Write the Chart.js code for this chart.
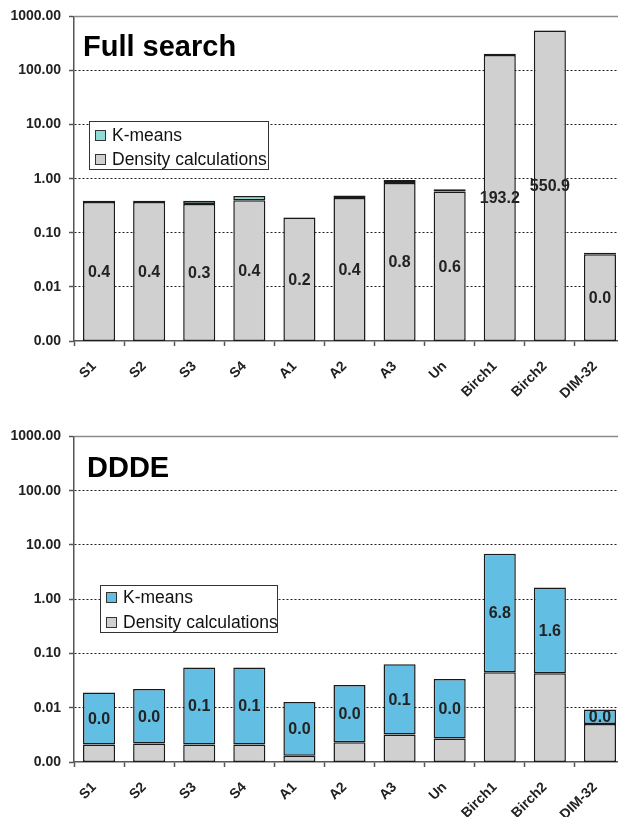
<!DOCTYPE html>
<html><head><meta charset="utf-8">
<script src="https://cdn.jsdelivr.net/npm/chart.js@4.4.0/dist/chart.umd.min.js"></script>
<style>
html,body{margin:0;padding:0;background:#fff;overflow:hidden;width:618px;height:817px;}
canvas{position:absolute;left:0;}
#c1{top:0;} #c2{top:420px;}
</style></head><body>
<canvas id="c1" width="630" height="410"></canvas>
<canvas id="c2" width="630" height="397"></canvas>
<script>
const categories = ['S1','S2','S3','S4','A1','A2','A3','Un','Birch1','Birch2','DIM-32'];
const yTickValues = [0.001, 0.01, 0.1, 1, 10, 100, 1000];
const seriesNames = ['K-means', 'Density calculations'];

// Panel 1: Full search
const fullDensity = [0.37, 0.37, 0.34, 0.40, 0.19, 0.44, 0.83, 0.58, 193.2, 550.9, 0.040];
const fullKmeans  = [0.02, 0.02, 0.05, 0.08, 0.004, 0.05, 0.12, 0.06, 10, 4, 0.003];

// Panel 2: DDDE
const ddeDensity = [0.0021, 0.0022, 0.0021, 0.0021, 0.0013, 0.0023, 0.0032, 0.0027, 0.045, 0.043, 0.0050];
const ddeKmeans  = [0.017, 0.020, 0.053, 0.053, 0.0115, 0.024, 0.060, 0.031, 6.8, 1.6, 0.0043];

const FONT = '"Liberation Sans", Arial, sans-serif';

const decor = {
  id: 'decor',
  beforeDatasetsDraw(chart) {
    const a = chart.chartArea, ctx = chart.ctx;
    ctx.save();
    ctx.strokeStyle = '#8a8a8a'; ctx.lineWidth = 1.5;
    ctx.beginPath(); ctx.moveTo(a.left, a.top); ctx.lineTo(a.right, a.top); ctx.stroke();
    ctx.restore();
  },
  afterDatasetsDraw(chart, args, opts) {
    const ctx = chart.ctx;
    ctx.save();
    // value labels
    const di = opts.labelDataset;
    const meta = chart.getDatasetMeta(di);
    const data = chart.data.datasets[di].data;
    ctx.font = 'bold 16px ' + FONT;
    ctx.fillStyle = '#222';
    ctx.textAlign = 'center'; ctx.textBaseline = 'middle';
    meta.data.forEach((el, i) => {
      ctx.fillText(data[i].toFixed(1), el.x, (el.y + el.base) / 2 + 1);
    });
    // title
    ctx.font = 'bold 29px ' + FONT;
    ctx.fillStyle = '#000';
    ctx.textAlign = 'left'; ctx.textBaseline = 'alphabetic';
    ctx.fillText(opts.title, opts.titleX, opts.titleY);
    // legend
    const L = opts.legend;
    ctx.fillStyle = '#fff';
    ctx.fillRect(L.x, L.y, L.w, L.h);
    ctx.strokeStyle = '#333'; ctx.lineWidth = 1;
    ctx.strokeRect(L.x + 0.5, L.y + 0.5, L.w, L.h);
    const items = [chart.data.datasets[1], chart.data.datasets[0]];
    ctx.font = '17.5px ' + FONT;
    ctx.textBaseline = 'middle';
    items.forEach((ds, k) => {
      const sy = L.rowY[k];
      ctx.fillStyle = ds.backgroundColor;
      ctx.fillRect(L.sx, sy, 11, 11);
      ctx.strokeStyle = '#333';
      ctx.strokeRect(L.sx + 0.5, sy + 0.5, 10, 10);
      ctx.fillStyle = '#111';
      ctx.fillText(ds.label, L.tx, sy + 6);
    });
    ctx.restore();
  }
};

function makeChart(id, density, kmeans, kColor, opts) {
  return new Chart(document.getElementById(id), {
    type: 'bar',
    data: {
      labels: categories,
      datasets: [
        { label: seriesNames[1], data: density, backgroundColor: '#d0d0d0', borderColor: '#1a1a1a', borderWidth: 1.5, borderSkipped: false },
        { label: seriesNames[0], data: kmeans, backgroundColor: kColor, borderColor: '#1a1a1a', borderWidth: 1.5, borderSkipped: false }
      ]
    },
    options: {
      responsive: false,
      animation: false,
      devicePixelRatio: 1,
      layout: { padding: { top: 15, right: 5, left: 0, bottom: 0 } },
      datasets: { bar: { barPercentage: 0.64, categoryPercentage: 1.0 } },
      plugins: {
        legend: { display: false },
        tooltip: { enabled: false },
        decor: opts
      },
      scales: {
        x: {
          stacked: true,
          afterFit(s) { s.height = opts.xAxisHeight; },
          grid: { offset: true, drawOnChartArea: false, drawTicks: true, tickLength: 5, tickColor: '#555', tickWidth: 1.5 },
          border: { display: true, color: '#555', width: 1.5 },
          ticks: {
            autoSkip: false, minRotation: 45, maxRotation: 45, padding: 12, labelOffset: -5,
            color: '#222', font: { family: FONT, size: 14, weight: 'bold' }
          }
        },
        y: {
          type: 'logarithmic',
          stacked: true,
          min: 0.001, max: 1000,
          afterFit(s) { s.width = 74; },
          afterBuildTicks(s) { s.ticks = yTickValues.map(v => ({ value: v })); },
          grid: {
            color: c => (c.tick && c.tick.value > 0.002 && c.tick.value < 500) ? '#222' : 'rgba(0,0,0,0)',
            lineWidth: 1,
            drawTicks: true, tickLength: 5, tickColor: '#555', tickWidth: 1.5
          },
          border: { display: true, color: '#555', width: 1.5, dash: [2, 2] },
          ticks: {
            autoSkip: false, padding: 8, color: '#222',
            font: { family: FONT, size: 14, weight: 'bold' },
            callback: v => Number(v).toFixed(2)
          }
        }
      }
    },
    plugins: [decor]
  });
}

makeChart('c1', fullDensity, fullKmeans, '#8ddcd6', {
  labelDataset: 0, title: 'Full search', titleX: 83, titleY: 56, xAxisHeight: 69,
  legend: { x: 89, y: 121, w: 179, h: 48, sx: 95, tx: 112, rowY: [130, 154] }
});
makeChart('c2', ddeDensity, ddeKmeans, '#62bee2', {
  labelDataset: 1, title: 'DDDE', titleX: 87, titleY: 57, xAxisHeight: 55,
  legend: { x: 100, y: 165, w: 177, h: 47, sx: 106, tx: 123, rowY: [172, 197] }
});
</script>
</body></html>
